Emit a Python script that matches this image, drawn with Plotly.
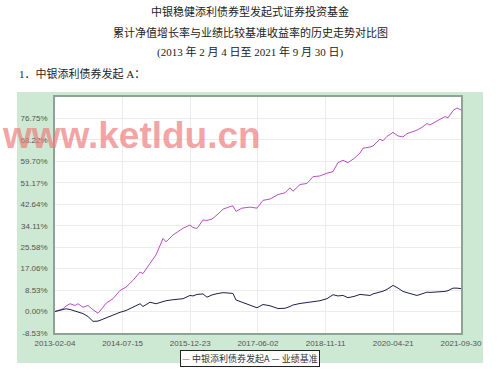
import pandas as pd
import plotly.graph_objects as go

# ---- data ----
start_date = "2013-02-04"
day_offsets = [0, 62, 86, 117, 156, 179, 218, 257, 296, 335, 374, 397, 451, 506, 553, 607,
               662, 685, 739, 786, 841, 864, 918, 996, 1051, 1074, 1105, 1152, 1183, 1222,
               1261, 1308, 1362, 1385, 1409, 1455, 1518, 1572, 1619, 1673, 1736, 1790, 1829,
               1852, 1907, 1961, 2008, 2062, 2117, 2164, 2202, 2241, 2280, 2327, 2374, 2397,
               2452, 2475, 2529, 2553, 2584, 2631, 2670, 2708, 2740, 2779, 2817, 2856, 2895,
               2919, 2973, 3004, 3035, 3059, 3098, 3129, 3160]
fund_values = [0, 1.1, 2.2, 3.1, 2.4, 3.1, 1.7, 2.4, 0.7, -0.7, 1.7, 3.3, 5.1, 8.4, 9.7, 12.4,
               15.7, 15.1, 19.1, 22.5, 29.1, 27.7, 30.4, 33.1, 34.4, 33.4, 33.0, 36.4, 36.2, 36.8,
               38.4, 40.7, 41.7, 42.0, 39.8, 41.1, 41.5, 41.1, 44.2, 44.7, 46.5, 47.2, 49.2,
               47.8, 50.5, 50.9, 53.6, 53.9, 55.0, 55.6, 59.2, 60.1, 59.2, 60.8, 63.0, 64.9,
               65.4, 65.8, 68.5, 67.9, 69.6, 71.2, 69.8, 69.4, 70.7, 71.3, 72.1, 73.2, 74.7,
               74.2, 75.6, 76.5, 77.5, 77.0, 79.9, 80.9, 80.1]
bench_values = [0, 0.8, 1.1, 0.8, 0.2, -0.4, -0.8, -2.0, -3.9, -3.8, -3.0, -2.3, -1.2, -0.3, 0.4, 1.8,
                3.1, 2.0, 3.7, 3.1, 4.1, 4.3, 4.7, 5.1, 6.4, 6.2, 6.8, 7.0, 5.7, 6.6,
                7.1, 7.5, 7.3, 7.2, 4.6, 3.7, 2.6, 1.5, 2.8, 2.3, 1.2, 1.3, 2.0,
                2.6, 3.2, 3.6, 4.1, 4.3, 5.1, 6.7, 6.2, 6.4, 5.5, 6.0, 6.8, 6.6,
                6.4, 7.0, 7.7, 8.1, 8.8, 10.4, 9.3, 8.0, 7.5, 6.9, 6.4, 7.0, 7.7,
                7.6, 7.7, 7.9, 8.0, 8.3, 9.3, 9.3, 9.1]
series_names = ["中银添利债券发起A", "业绩基准"]
x_tick_labels = ["2013-02-04", "2014-07-15", "2015-12-23", "2017-06-02",
                 "2018-11-11", "2020-04-21", "2021-09-30"]
y_tick_values = [-8.53, 0.00, 8.53, 17.06, 25.58, 34.11, 42.64, 51.17, 59.70, 68.22, 76.75]
y_top = 85.28

dates = pd.Timestamp(start_date) + pd.to_timedelta(day_offsets, unit="D")

FUND_COLOR = "#b94fc4"
BENCH_COLOR = "#1e1e4e"

fig = go.Figure()
fig.add_trace(go.Scatter(x=dates, y=fund_values, mode="lines", name=series_names[0],
                         line=dict(color=FUND_COLOR, width=1)))
fig.add_trace(go.Scatter(x=dates, y=bench_values, mode="lines", name=series_names[1],
                         line=dict(color=BENCH_COLOR, width=1)))

W, H = 499, 375
L, R, T, B = 55, 461, 97, 333
pw, ph = R - L, B - T


def px(x):
    return (x - L) / pw


def py(y):
    return (B - y) / ph


tick_font = dict(family="Liberation Sans, Arial, sans-serif", size=8, color="#555555")

fig.update_layout(
    width=W, height=H,
    margin=dict(l=L, r=W - R, t=T, b=H - B),
    paper_bgcolor="white", plot_bgcolor="white",
    showlegend=False,
    xaxis=dict(
        type="date",
        range=[x_tick_labels[0], x_tick_labels[-1]],
        tickvals=x_tick_labels, ticktext=x_tick_labels,
        showgrid=True, gridcolor="#ececec", gridwidth=1,
        showline=True, mirror=True, linecolor="#8fa394", linewidth=1.5,
        ticks="", tickfont=tick_font, ticklabelstandoff=2,
        zeroline=False, fixedrange=True,
    ),
    yaxis=dict(
        range=[y_tick_values[0], y_top],
        tickvals=y_tick_values, ticktext=[f"{v:.2f}%" for v in y_tick_values],
        showgrid=True, gridcolor="#ececec", gridwidth=1,
        showline=True, mirror=True, linecolor="#8fa394", linewidth=1.5,
        ticks="", tickfont=tick_font, ticklabelstandoff=4,
        zeroline=False, fixedrange=True,
    ),
    shapes=[
        dict(type="rect", xref="paper", yref="paper", layer="below",
             x0=px(17), x1=px(483), y0=py(363), y1=py(92),
             fillcolor="#cde8d3", line=dict(width=0)),
        dict(type="rect", xref="paper", yref="paper", layer="below",
             x0=0, x1=1, y0=0, y1=1,
             fillcolor="white", line=dict(width=0)),
    ],
)

title_font = dict(family="Liberation Serif, Noto Sans CJK SC, serif", size=11, color="#222222")
annots = [
    dict(text="中银稳健添利债券型发起式证券投资基金", x=px(250), y=py(11)),
    dict(text="累计净值增长率与业绩比较基准收益率的历史走势对比图", x=px(250), y=py(32)),
    dict(text="(2013 年 2 月 4 日至 2021 年 9 月 30 日)", x=px(250), y=py(52)),
]
for a in annots:
    fig.add_annotation(xref="paper", yref="paper", xanchor="center", yanchor="middle",
                       showarrow=False, font=title_font, **a)
fig.add_annotation(text="1．中银添利债券发起 A：", xref="paper", yref="paper",
                   x=px(17), y=py(73), xanchor="left", yanchor="middle",
                   showarrow=False, font=title_font)

# legend box
legend_text = (f"<span style='color:{FUND_COLOR}'>—</span> {series_names[0]} "
               f"<span style='color:{BENCH_COLOR}'>—</span> {series_names[1]}")
fig.add_annotation(text=legend_text, xref="paper", yref="paper",
                   x=px(250), y=py(358), xanchor="center", yanchor="middle",
                   showarrow=False, bgcolor="white", bordercolor="#222222",
                   borderwidth=1, borderpad=1,
                   font=dict(family="Noto Sans CJK SC, sans-serif", size=9, color="#333333"))

# watermark
fig.add_annotation(text="<b>www.ketldu.cn</b>", xref="paper", yref="paper",
                   x=px(131), y=py(135), xanchor="center", yanchor="middle",
                   showarrow=False,
                   font=dict(family="Liberation Sans, Arial, sans-serif", size=37,
                             color="rgba(238,125,125,0.7)"))

fig.write_html("out.html")
